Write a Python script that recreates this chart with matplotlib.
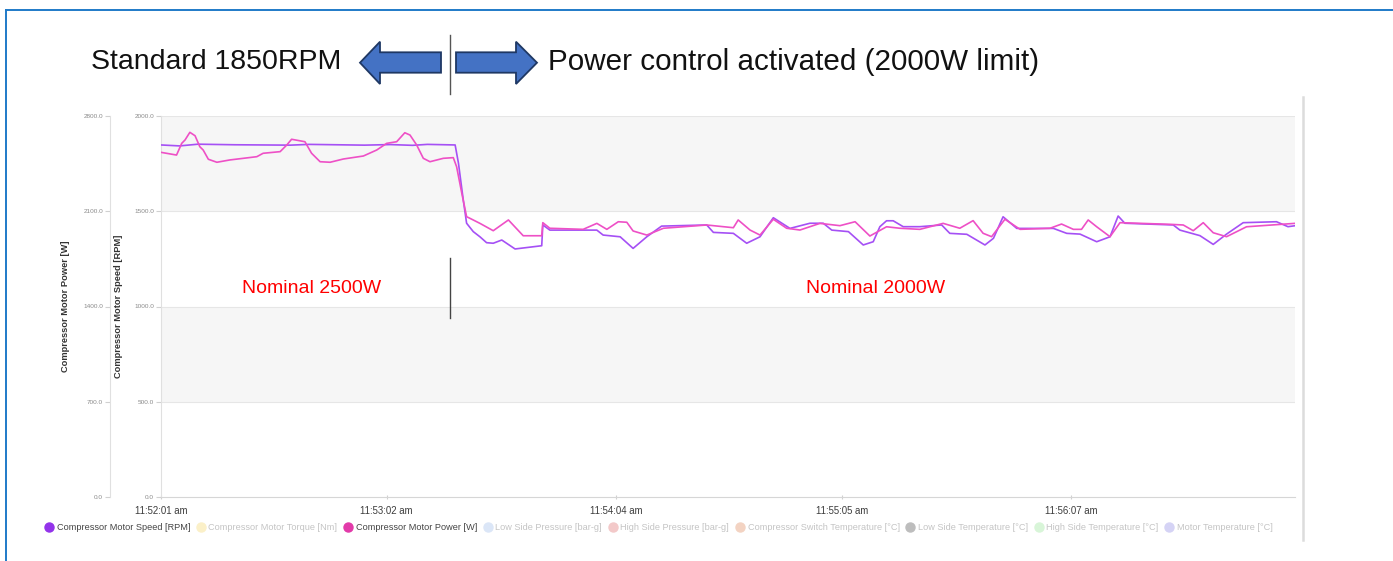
import matplotlib
matplotlib.use("Agg")
import matplotlib.pyplot as plt
import numpy as np
from matplotlib.lines import Line2D
from matplotlib.patches import Polygon
from matplotlib.ticker import FormatStrFormatter

plt.rcParams['font.family'] = ['Liberation Sans', 'DejaVu Sans']

# seconds after 11:52:01
power_t = [0, 4.2, 5.6, 6.5, 7.8, 9.2, 10.5, 11.4, 12.8, 15.1, 18.6, 25.9, 27.6, 32.2, 34.0,
           35.3, 38.9, 40.7, 43.0, 45.7, 49.3, 54.7, 58.3, 61.0, 63.7, 65.9, 67.3, 69.1, 70.9,
           72.7, 76.3, 79.0, 79.9, 81.3, 82.6, 83.5, 86.2, 89.8, 93.9, 97.9, 102.9, 103.2, 105.1,
           114.1, 117.8, 120.5, 123.6, 125.9, 127.6, 131.3, 135.8, 147.5, 154.7, 156.0, 159.2,
           161.9, 165.5, 169.1, 172.7, 178.1, 183.5, 187.6, 191.6, 196.1, 199.7, 205.1, 211.4,
           215.9, 219.5, 222.2, 224.5, 228.1, 232.2, 240.3, 243.4, 246.6, 248.8, 250.6, 252.9,
           256.5, 259.2, 272.7, 276.3, 279.0, 281.7, 284.4, 288.0, 293.4, 306.5]
power_w = [2533, 2513, 2599, 2624, 2680, 2655, 2574, 2550, 2482, 2460, 2477, 2501, 2526, 2538, 2587,
           2629, 2611, 2526, 2464, 2460, 2484, 2506, 2550, 2599, 2611, 2677, 2660, 2587, 2489,
           2464, 2489, 2494, 2427, 2232, 2060, 2048, 2011, 1957, 2036, 1920, 1920, 2016, 1975,
           1967, 2011, 1967, 2023, 2019, 1955, 1925, 1975, 1999, 1979, 2036, 1962,
           1925, 2041, 1975, 1962, 2011, 1994, 2023, 1918, 1986, 1975, 1967, 2011,
           1975, 2031, 1938, 1913, 2041, 1967, 1975, 2006, 1967, 1967, 2036, 1986,
           1913, 2016, 2004, 1999, 1957, 2016, 1942, 1913, 1986, 2011]

speed_t = [0, 5, 10, 20, 35, 40, 55, 62, 68, 72, 79.5, 80.4, 81.7, 82.6, 84.4, 86.2, 88.0, 89.8,
           92.1, 95.7, 102.9, 103.2, 105.1, 117.8, 119.5, 124.1, 127.6, 131.3, 135.3, 147.5, 149.3,
           154.7, 158.3, 161.9, 165.5, 170.0, 175.4, 179.0, 181.3, 185.8, 189.8, 192.5, 194.3,
           196.1, 197.9, 200.6, 205.1, 211.0, 213.2, 217.8, 222.7, 225.0, 227.6, 231.3, 241.2,
           244.8, 248.4, 252.9, 256.5, 258.7, 260.5, 273.6, 275.4, 280.8, 284.4, 288.0, 292.5,
           301.5, 304.6, 306.5]
speed_rpm = [1848, 1843, 1852, 1849, 1847, 1851, 1847, 1850, 1846, 1851, 1848, 1752, 1559, 1437, 1393,
             1366, 1335, 1332, 1349, 1302, 1319, 1428, 1401, 1401, 1375, 1366, 1305, 1366, 1422,
             1428, 1389, 1384, 1332, 1366, 1466, 1410, 1437, 1437, 1401, 1393, 1323, 1340, 1419,
             1450, 1450, 1419, 1419, 1428, 1384, 1379, 1323, 1358, 1471, 1410, 1410, 1384, 1380,
             1340, 1366, 1475, 1437, 1428, 1401, 1372, 1326, 1380, 1440, 1445, 1419, 1424]

tick_secs = [0, 61, 123, 184, 246]
tick_labels = ["11:52:01 am", "11:53:02 am", "11:54:04 am", "11:55:05 am", "11:56:07 am"]

legend_names = ["Compressor Motor Speed [RPM]", "Compressor Motor Torque [Nm]",
                "Compressor Motor Power [W]", "Low Side Pressure [bar-g]",
                "High Side Pressure [bar-g]", "Compressor Switch Temperature [°C]",
                "Low Side Temperature [°C]", "High Side Temperature [°C]",
                "Motor Temperature [°C]"]
legend_colors = ["#9333ea", "#fbf0c8", "#e23aa9", "#dbe6f7", "#f3c9c9",
                 "#f3d3c2", "#bdbdbd", "#d8f5d8", "#d5d3f5"]
legend_active = [True, False, True, False, False, False, False, False, False]

W, H = 1393, 561
fig = plt.figure(figsize=(W / 100, H / 100), dpi=100)


def fx(px):
    return px / W


def fy(py):
    return 1 - py / H


ax = fig.add_axes([fx(161), fy(497), fx(1295) - fx(161), fy(116) - fy(497)])
ax.set_xlim(0, 306.5)
ax.set_ylim(0, 2000)
for lo, hi in [(500, 1000), (1500, 2000)]:
    ax.axhspan(lo, hi, color="#f6f6f6", zorder=0, lw=0)
for v in [500, 1000, 1500, 2000]:
    ax.axhline(v, color="#e6e6e6", lw=0.8, zorder=0.5)

ax.set_yticks([0, 500, 1000, 1500, 2000])
ax.yaxis.set_major_formatter(FormatStrFormatter('%.1f'))
ax.set_xticks(tick_secs)
ax.set_xticklabels(tick_labels)
ax.tick_params(axis='y', labelsize=4.6, colors="#d0d0d0", labelcolor="#8a8a8a",
               length=3.5, width=0.8, pad=1.5)
ax.tick_params(axis='x', labelsize=6.9, colors="#d0d0d0", labelcolor="#3c3c3c",
               length=3, width=0.8, pad=5, direction='inout')
for s in ['top', 'right']:
    ax.spines[s].set_visible(False)
ax.spines['left'].set_color("#e0e0e0")
ax.spines['bottom'].set_color("#d6d6d6")
ax.spines['left'].set_linewidth(0.8)
ax.spines['bottom'].set_linewidth(0.8)
ax.set_ylabel("Compressor Motor Speed [RPM]", fontsize=6.7, fontweight='bold', color="#333333")
ax.yaxis.set_label_coords((123 - 161) / 1134, 0.5)

ax.plot(speed_t, speed_rpm, color="#a550f5", lw=1.2, zorder=3)

ax2 = ax.twinx()
ax2.set_ylim(0, 2800)
ax2.set_yticks([0, 700, 1400, 2100, 2800])
ax2.yaxis.set_major_formatter(FormatStrFormatter('%.1f'))
ax2.yaxis.tick_left()
ax2.yaxis.set_label_position('left')
ax2.spines['left'].set_position(('axes', (110 - 161) / 1134))
ax2.spines['left'].set_color("#e0e0e0")
ax2.spines['left'].set_linewidth(0.8)
for s in ['top', 'right', 'bottom']:
    ax2.spines[s].set_visible(False)
ax2.tick_params(axis='y', labelsize=4.6, colors="#d0d0d0", labelcolor="#8a8a8a",
                length=3.5, width=0.8, pad=1.5)
ax2.set_ylabel("Compressor Motor Power [W]", fontsize=6.7, fontweight='bold', color="#333333")
ax2.yaxis.set_label_coords((70 - 161) / 1134, 0.5)

ax2.plot(power_t, power_w, color="#ee50c6", lw=1.2, zorder=3)

# legend row under the time axis
handles = [Line2D([], [], marker='o', linestyle='none', markersize=6.5,
                  markerfacecolor=c, markeredgecolor=c) for c in legend_colors]
leg = fig.legend(handles, legend_names, loc='center', bbox_to_anchor=(fx(659), fy(528)),
                 ncol=9, frameon=False, fontsize=6.6, handlelength=0.8, handletextpad=0.45,
                 columnspacing=0.75, borderpad=0)
for txt, on in zip(leg.get_texts(), legend_active):
    txt.set_color("#444444" if on else "#c4c4c4")

# chart panel edge on the right
fig.add_artist(Line2D([fx(1303), fx(1303)], [fy(97), fy(540)], color="#dcdcdc", lw=1.8))

# slide frame
fig.add_artist(Line2D([fx(6), fx(1393)], [fy(10), fy(10)], color="#1f7ac8", lw=1.4))
fig.add_artist(Line2D([fx(6), fx(6)], [fy(10), fy(561)], color="#1f7ac8", lw=1.4))

# heading with arrows
fig.text(fx(91), fy(62), "Standard 1850RPM", fontsize=20.5, ha='left', va='center', color="#111111")
fig.text(fx(548), fy(62), "Power control activated (2000W limit)", fontsize=21.3,
         ha='left', va='center', color="#111111")
left_arrow = [(360, 62.7), (380, 41.7), (380, 52.3), (441, 52.3), (441, 72.7), (380, 72.7), (380, 84)]
right_arrow = [(537, 62.7), (516, 41.7), (516, 52.3), (456, 52.3), (456, 72.7), (516, 72.7), (516, 84)]
for pts in [left_arrow, right_arrow]:
    fig.add_artist(Polygon([(fx(x), fy(y)) for x, y in pts], closed=True,
                           facecolor="#4472c4", edgecolor="#1f3864", lw=1.3))
fig.add_artist(Line2D([fx(450), fx(450)], [fy(35), fy(94)], color="#555555", lw=1.0))

# annotations inside the chart
fig.add_artist(Line2D([fx(449.5), fx(449.5)], [fy(258), fy(318)], color="#444444", lw=1.0))
fig.text(fx(312), fy(288), "Nominal 2500W", fontsize=14, color="#ff0000", ha='center', va='center')
fig.text(fx(876), fy(288), "Nominal 2000W", fontsize=14, color="#ff0000", ha='center', va='center')

fig.savefig("out.png", dpi=100)
